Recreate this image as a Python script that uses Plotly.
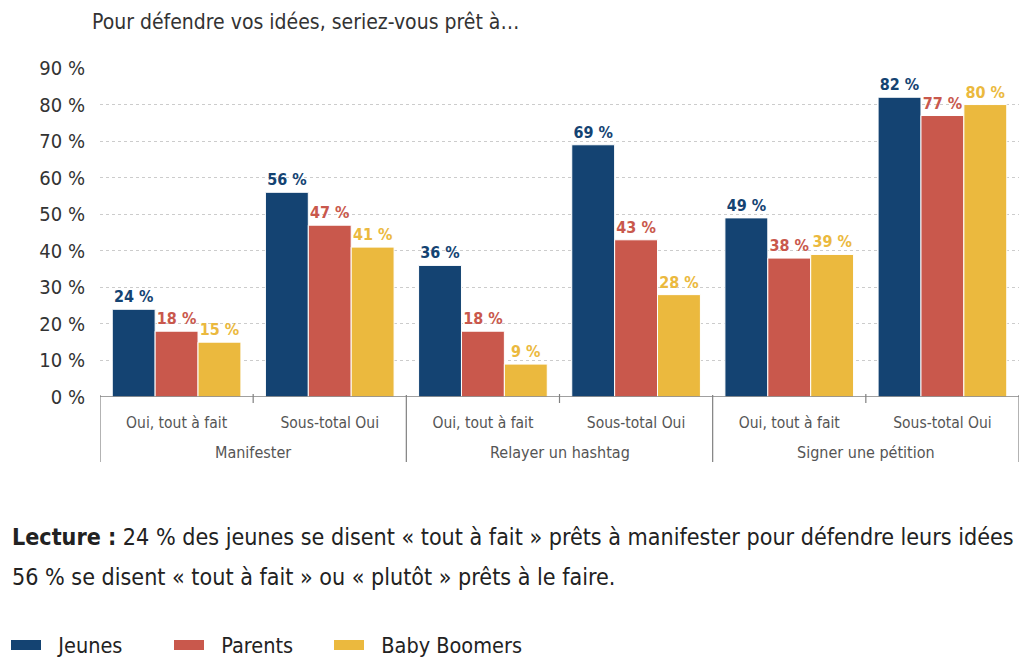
import plotly.graph_objects as go

categories = ["Oui, tout à fait", "Sous-total Oui", "Oui, tout à fait", "Sous-total Oui", "Oui, tout à fait", "Sous-total Oui"]
groups = ["Manifester", "Relayer un hashtag", "Signer une pétition"]
jeunes = [24, 56, 36, 69, 49, 82]
parents = [18, 47, 18, 43, 38, 77]
boomers = [15, 41, 9, 28, 39, 80]
series_names = ["Jeunes", "Parents", "Baby Boomers"]
colors = ["#144372", "#C9584C", "#EBB93E"]
y_ticks = [0, 10, 20, 30, 40, 50, 60, 70, 80, 90]

FONT = "Liberation Sans Narrow, DejaVu Sans Condensed, Arial Narrow, sans-serif"
xpos = list(range(len(categories)))

fig = go.Figure()
for name, vals, col in zip(series_names, [jeunes, parents, boomers], colors):
    fig.add_trace(go.Bar(
        x=xpos, y=vals, name=name, legendgroup=name, showlegend=False,
        marker=dict(color=col, line=dict(color="white", width=1)),
        text=[f"{v} %" for v in vals], textposition="outside",
        textfont=dict(color=col, size=16, family=FONT),
        texttemplate="<b>%{text}</b>", cliponaxis=False,
        constraintext="none",
    ))

PW = 919.0
PH = 329.0  # plot height in px
def py(px_below):
    return -px_below / PH

# legend proxies (wide swatches like the reference), one legend each
legend_ids = ["legend", "legend2", "legend3"]
legend_px = [6, 169, 329]
for name, col, lid in zip(series_names, colors, legend_ids):
    fig.add_trace(go.Scatter(
        x=[None], y=[None], name="\u00a0\u00a0" + name, legendgroup=name, mode="lines",
        line=dict(color=col, width=18), showlegend=True, hoverinfo="skip", legend=lid,
    ))

shapes = []
shapes.append(dict(type="line", xref="paper", yref="y", x0=0, x1=1, y0=0, y1=0,
                   line=dict(color="#808080", width=1.5)))
for xb in [-0.5, 1.5, 3.5, 5.5]:
    shapes.append(dict(type="line", xref="x", yref="paper", x0=xb, x1=xb, y0=py(-2), y1=py(65),
                       line=dict(color="#808080", width=1.2)))
for xb in [0.5, 2.5, 4.5]:
    shapes.append(dict(type="line", xref="x", yref="paper", x0=xb, x1=xb, y0=py(-3), y1=py(6),
                       line=dict(color="#808080", width=1.2)))

annotations = []
for i, g in enumerate(groups):
    annotations.append(dict(x=2 * i + 0.5, y=py(55), xref="x", yref="paper", text=g,
                            showarrow=False, xanchor="center", yanchor="middle",
                            font=dict(size=16, color="#555555", family=FONT)))
annotations.append(dict(x=-10 / PW, y=py(-375), xref="paper", yref="paper",
                        text="Pour défendre vos idées, seriez-vous prêt à…", showarrow=False,
                        xanchor="left", yanchor="middle",
                        font=dict(size=21, color="#333333", family=FONT)))
annotations.append(dict(x=-90 / PW, y=py(140), xref="paper", yref="paper",
                        text="<b>Lecture :</b> 24 % des jeunes se disent « tout à fait » prêts à manifester pour défendre leurs idées",
                        showarrow=False, xanchor="left", yanchor="middle",
                        font=dict(size=23.1, color="#222222", family=FONT)))
annotations.append(dict(x=-90 / PW, y=py(180), xref="paper", yref="paper",
                        text="56 % se disent « tout à fait » ou « plutôt » prêts à le faire.",
                        showarrow=False, xanchor="left", yanchor="middle",
                        font=dict(size=23.1, color="#222222", family=FONT)))

legend_common = dict(orientation="h", xanchor="left", y=py(248), yanchor="middle",
                     font=dict(size=21.5, color="#222222", family=FONT),
                     itemwidth=30, itemsizing="trace", bgcolor="rgba(0,0,0,0)")
legends = {}
for lid, lx in zip(legend_ids, legend_px):
    legends[lid] = dict(legend_common, x=(lx - 100) / PW)

fig.update_layout(
    width=1019, height=659,
    margin=dict(l=100, r=0, t=68, b=262, autoexpand=False),
    paper_bgcolor="white", plot_bgcolor="white",
    barmode="group", bargap=0.16, bargroupgap=0.0,
    font=dict(family=FONT, color="#444444"),
    xaxis=dict(range=[-0.5, 5.5], tickmode="array", tickvals=xpos, ticktext=categories,
               showgrid=False, zeroline=False, showline=False, ticks="", automargin=False,
               ticklabelstandoff=14, tickfont=dict(size=15.5, color="#555555", family=FONT)),
    yaxis=dict(range=[0, 90], tickmode="array", tickvals=y_ticks,
               ticktext=[f"{v} %" for v in y_ticks], automargin=False,
               showgrid=True, gridcolor="#cccccc", griddash="dot", gridwidth=1,
               zeroline=False, showline=False, ticks="", ticklabelstandoff=14,
               tickfont=dict(size=20, color="#333333", family=FONT)),
    showlegend=True,
    shapes=shapes, annotations=annotations,
    **legends,
)

fig.write_html("out.html", config={"displayModeBar": False},
               post_script="document.body.style.margin='0';document.body.style.overflow='hidden';")
